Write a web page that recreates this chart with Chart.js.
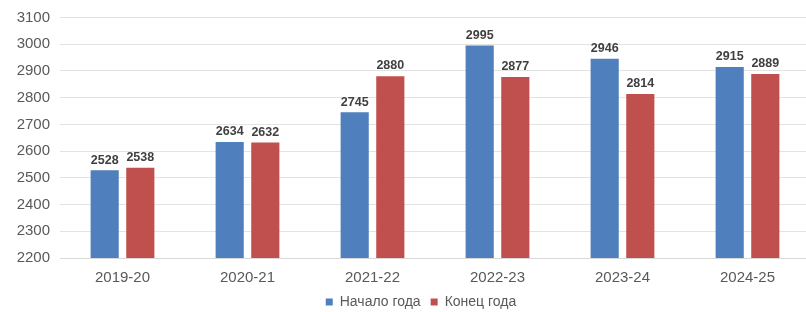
<!DOCTYPE html>
<html>
<head>
<meta charset="utf-8">
<script src="https://cdn.jsdelivr.net/npm/chart.js@4"></script>
<style>
  html, body { margin: 0; padding: 0; background: #fff; overflow: hidden; }
  #wrap { width: 812px; height: 312px; }
</style>
</head>
<body>
<div id="wrap"><canvas id="chart" width="812" height="312"></canvas></div>
<script>
// Данные
const years = ["2019-20", "2020-21", "2021-22", "2022-23", "2023-24", "2024-25"];
const startOfYear = [2528, 2634, 2745, 2995, 2946, 2915];
const endOfYear = [2538, 2632, 2880, 2877, 2814, 2889];
const seriesNames = ["Начало года", "Конец года"];

const FONT = "'Liberation Sans', Arial, sans-serif";

// Подписи над столбцами
const valueLabels = {
  id: "valueLabels",
  afterDatasetsDraw(chart) {
    const ctx = chart.ctx;
    ctx.save();
    ctx.font = "bold 12.5px " + FONT;
    ctx.fillStyle = "#404040";
    ctx.textAlign = "center";
    ctx.textBaseline = "bottom";
    chart.data.datasets.forEach((ds, i) => {
      chart.getDatasetMeta(i).data.forEach((bar, j) => {
        ctx.fillText(ds.data[j], bar.x, bar.y - 4);
      });
    });
    ctx.restore();
  }
};

// Легенда: поменьше по высоте и чуть правее, как в оригинале
const legendShift = {
  id: "legendShift",
  beforeLayout(chart) {
    const lg = chart.legend;
    if (lg && !lg._patched) {
      const fit = lg.fit.bind(lg);
      lg.fit = function () { fit(); this.height -= 10; };
      lg._patched = true;
    }
  },
  afterLayout(chart) {
    const lg = chart.legend;
    lg.left += 16; lg.right += 16;
    lg.top -= 3; lg.bottom -= 3;
  }
};

new Chart(document.getElementById("chart"), {
  type: "bar",
  data: {
    labels: years,
    datasets: [
      { label: seriesNames[0], data: startOfYear, backgroundColor: "#4f7fbd" },
      { label: seriesNames[1], data: endOfYear, backgroundColor: "#c0504d" }
    ]
  },
  options: {
    responsive: false,
    animation: false,
    layout: { padding: { top: 4, right: 2, bottom: 0 } },
    datasets: { bar: { categoryPercentage: 0.57, barPercentage: 0.79 } },
    scales: {
      x: {
        grid: { display: false, drawTicks: false },
        border: { color: "#d9d9d9" },
        ticks: { color: "#595959", font: { family: FONT, size: 15 }, padding: 11 },
        afterFit(s) { s.height = 30; }
      },
      y: {
        min: 2200,
        max: 3100,
        grid: { color: "#e3e3e3", drawTicks: false },
        border: { display: false },
        ticks: {
          stepSize: 100,
          color: "#595959",
          font: { family: FONT, size: 15, lineHeight: 1 },
          padding: 10,
          callback: v => String(v)
        },
        afterFit(s) { s.width = 60; }
      }
    },
    plugins: {
      legend: {
        position: "bottom",
        labels: {
          color: "#595959",
          font: { family: FONT, size: 14 },
          boxWidth: 7,
          boxHeight: 7,
          padding: 10
        }
      },
      tooltip: { enabled: false }
    }
  },
  plugins: [valueLabels, legendShift]
});
</script>
</body>
</html>
